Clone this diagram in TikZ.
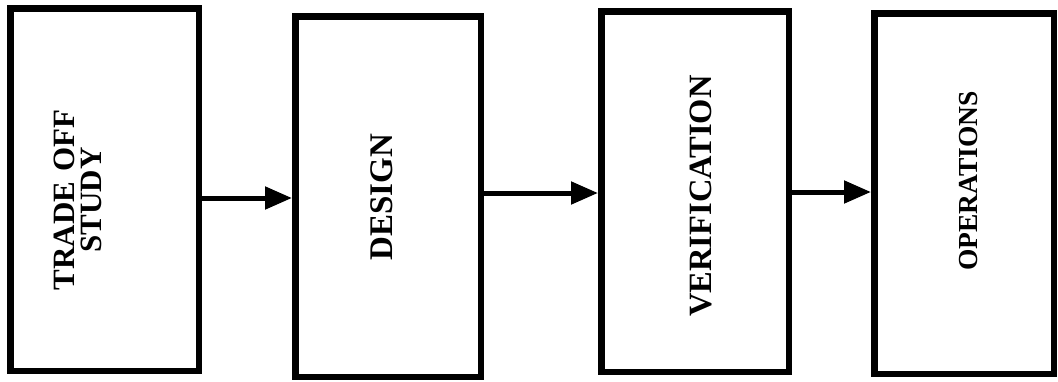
\documentclass[tikz,border=0pt]{standalone}
\usepackage{fontspec}
\setmainfont{Liberation Serif}
\usetikzlibrary{arrows.meta}
\tikzset{
  stagebox/.style={draw=black, line width=6.5pt, fill=white, inner sep=0pt},
  lbl/.style={font=\fontsize{31}{27}\selectfont\bfseries, rotate=90, align=center, inner sep=0pt},
  arr/.style={line width=5pt, -{Triangle[length=27pt,width=22pt]}}
}
\begin{document}
\begin{tikzpicture}[x=1pt,y=-1pt]
\useasboundingbox (0,0) rectangle (1058,381);
\node[stagebox, minimum width=188.5pt, minimum height=362.5pt] (b1) at (104.5,189.5) {};
\node[stagebox, minimum width=185.5pt, minimum height=360.5pt] (b2) at (388,196.5) {};
\node[stagebox, minimum width=187.5pt, minimum height=360.5pt] (b3) at (695,191.5) {};
\node[stagebox, minimum width=179.5pt, minimum height=360.5pt] (b4) at (964,193.5) {};
\node[lbl] (t1) at (78,200) {TRADE\,\,OFF\\STUDY};
\node[lbl, font=\fontsize{33}{30}\selectfont\bfseries] (t2) at (382,197) {DESIGN};
\node[lbl, font=\fontsize{32.5}{30}\selectfont\bfseries] (t3) at (701,196) {VERIFICATION};
\node[lbl, font=\fontsize{27.5}{30}\selectfont\bfseries] (t4) at (969,181) {OPERATIONS};
\draw[arr] (b1.east |- 0,198) -- (b2.west |- 0,198);
\draw[arr] (b2.east |- 0,193) -- (b3.west |- 0,193);
\draw[arr] (b3.east |- 0,192) -- (b4.west |- 0,192);
\end{tikzpicture}
\end{document}
